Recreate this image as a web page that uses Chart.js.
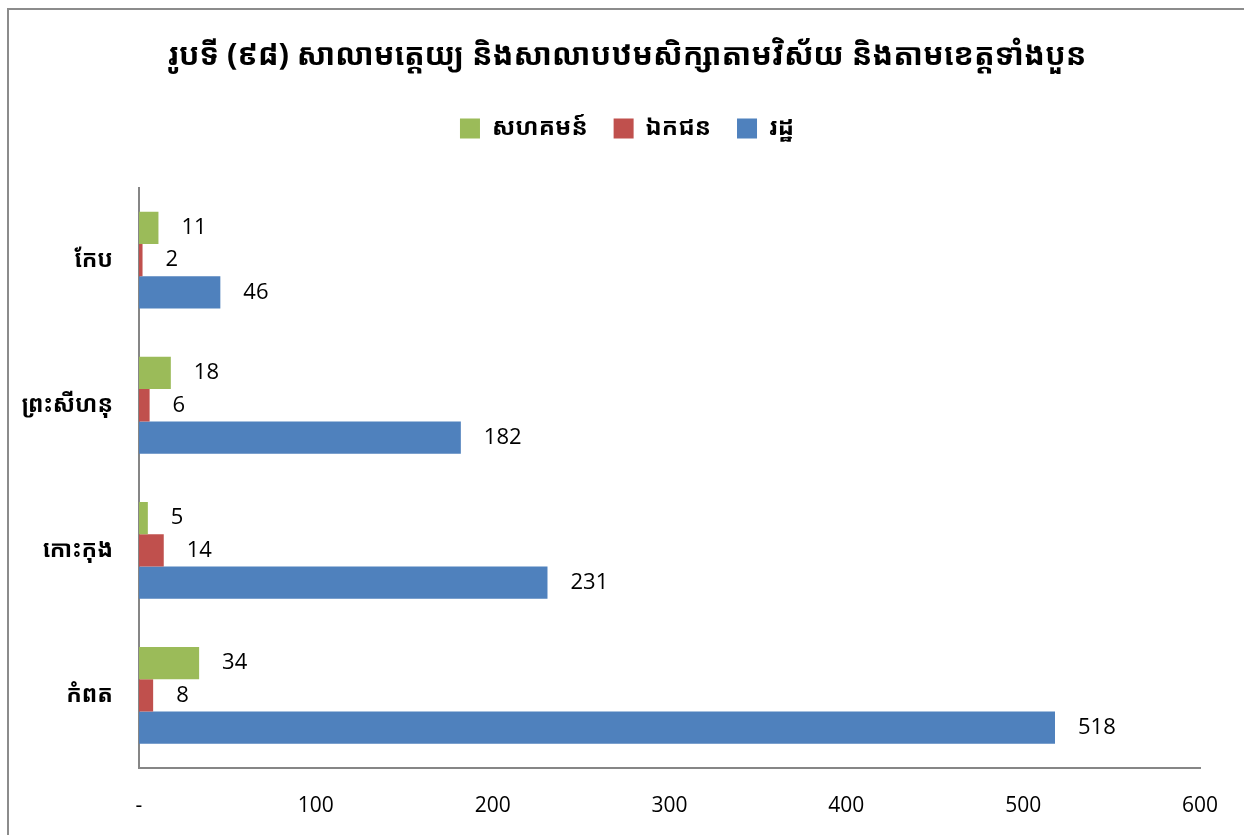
<!DOCTYPE html>
<html>
<head>
<meta charset="utf-8">
<script src="https://cdn.jsdelivr.net/npm/chart.js@4.4.1/dist/chart.umd.min.js"></script>
<style>
  html, body { margin: 0; padding: 0; background: #ffffff; }
  #wrap { position: relative; width: 1244px; height: 835px; }
  #frame { position: absolute; left: 7px; top: 8px; width: 1250px; height: 840px;
           border-left: 2px solid #8c8c8c; border-top: 2px solid #8c8c8c; }
  canvas { position: absolute; left: 0; top: 0; }
</style>
</head>
<body>
<div id="wrap">
  <div id="frame"></div>
  <canvas id="schoolChart" width="1244" height="835"></canvas>
</div>
<script>
// provinces, top to bottom
var provinces = ['កែប', 'ព្រះសីហនុ', 'កោះកុង', 'កំពត'];
// school counts per owner type
var community = [11, 18, 5, 34];
var privateSchools = [2, 6, 14, 8];
var stateSchools = [46, 182, 231, 518];
var xTicks = [0, 100, 200, 300, 400, 500, 600];

var khmerFont = "'Khmer OS', 'Noto Sans Khmer', 'Khmer OS System', 'Noto Sans', sans-serif";

// writes each bar's value just past its end
var valueLabels = {
  id: 'valueLabels',
  afterDatasetsDraw: function(chart) {
    var ctx = chart.ctx;
    ctx.save();
    ctx.font = "22px 'Open Sans', sans-serif";
    ctx.fillStyle = '#000000';
    ctx.textAlign = 'left';
    ctx.textBaseline = 'middle';
    chart.data.datasets.forEach(function(ds, i) {
      chart.getDatasetMeta(i).data.forEach(function(bar, j) {
        ctx.fillText(ds.data[j], bar.x + 23, bar.y);
      });
    });
    ctx.restore();
  }
};

// leave some empty room between the legend and the bars
var legendGap = {
  id: 'legendGap',
  beforeLayout: function(chart) {
    var lg = chart.legend;
    if (lg && !lg._gapAdded) {
      var fit = lg.fit;
      lg.fit = function() {
        fit.call(this);
        this.height += 37;
      };
      lg._gapAdded = true;
    }
  }
};

var ctx = document.getElementById('schoolChart');
var myChart = new Chart(ctx, {
  type: 'bar',
  data: {
    labels: provinces,
    datasets: [
      { label: 'សហគមន៍', data: community, backgroundColor: '#9bbb59' },
      { label: 'ឯកជន', data: privateSchools, backgroundColor: '#c0504d' },
      { label: 'រដ្ឋ', data: stateSchools, backgroundColor: '#4f81bd' }
    ]
  },
  options: {
    indexAxis: 'y',
    responsive: false,
    animation: false,
    layout: { padding: { left: 10, right: 0, top: 0, bottom: 0 } },
    datasets: { bar: { categoryPercentage: 0.667, barPercentage: 1.0 } },
    plugins: {
      title: {
        display: true,
        text: 'រូបទី (៩៨) សាលាមត្តេយ្យ និងសាលាបឋមសិក្សាតាមវិស័យ និងតាមខេត្តទាំងបួន',
        color: '#000000',
        font: { family: khmerFont, size: 30.5, weight: 'bold' },
        padding: { top: 38, bottom: 16 }
      },
      legend: {
        position: 'top',
        labels: {
          color: '#000000',
          font: { family: khmerFont, size: 24, weight: 'bold' },
          boxWidth: 20,
          boxHeight: 20,
          padding: 26
        }
      },
      tooltip: { enabled: false }
    },
    scales: {
      x: {
        min: 0,
        max: 600,
        afterBuildTicks: function(axis) {
          axis.ticks = xTicks.map(function(v) { return { value: v }; });
        },
        afterFit: function(axis) {
          axis.height = 67;
          axis.paddingRight = 44;
        },
        grid: { display: false, drawTicks: false },
        border: { color: '#868686', width: 2 },
        ticks: {
          padding: 25,
          color: '#000000',
          font: { family: "'Liberation Sans Narrow', 'Open Sans', sans-serif", size: 21 },
          callback: function(v) { return v === 0 ? '-' : v; }
        }
      },
      y: {
        afterFit: function(axis) { axis.width = 129; },
        grid: { display: false, drawTicks: false },
        border: { color: '#868686', width: 2 },
        ticks: {
          padding: 26,
          color: '#000000',
          font: { family: khmerFont, size: 23, weight: 'bold' }
        }
      }
    }
  },
  plugins: [valueLabels, legendGap]
});
</script>
</body>
</html>
